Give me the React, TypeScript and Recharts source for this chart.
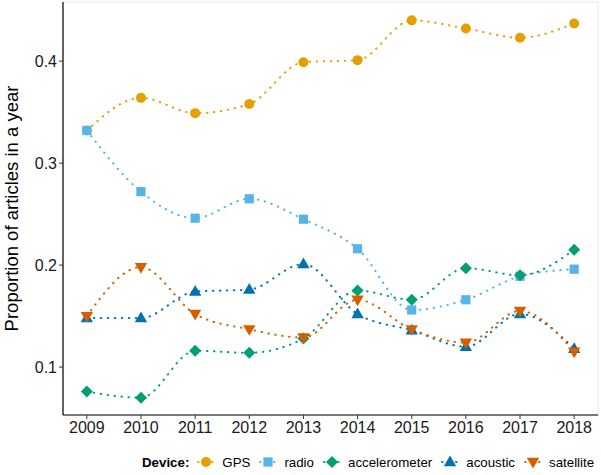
import React from 'react';
import { LineChart, Line, XAxis, YAxis, CartesianGrid } from 'recharts';

const years = [2009, 2010, 2011, 2012, 2013, 2014, 2015, 2016, 2017, 2018];
const gps = [0.332, 0.364, 0.349, 0.358, 0.399, 0.401, 0.44, 0.432, 0.423, 0.437];
const radio = [0.332, 0.272, 0.246, 0.265, 0.245, 0.216, 0.156, 0.166, 0.189, 0.196];
const accelerometer = [0.076, 0.07, 0.116, 0.114, 0.128, 0.175, 0.166, 0.197, 0.19, 0.215];
const acoustic = [0.148, 0.148, 0.174, 0.176, 0.201, 0.152, 0.136, 0.12, 0.152, 0.118];
const satellite = [0.15, 0.198, 0.152, 0.137, 0.129, 0.166, 0.137, 0.124, 0.155, 0.115];

const yTicks = [0.1, 0.2, 0.3, 0.4];
const yGridTicks = [0.1, 0.15, 0.2, 0.25, 0.3, 0.35, 0.4, 0.45];
const xGridTicks = [2009, 2009.5, 2010, 2010.5, 2011, 2011.5, 2012, 2012.5, 2013, 2013.5, 2014, 2014.5, 2015, 2015.5, 2016, 2016.5, 2017, 2017.5, 2018];

const data = years.map((year, i) => ({
  year,
  gps: gps[i],
  radio: radio[i],
  accelerometer: accelerometer[i],
  acoustic: acoustic[i],
  satellite: satellite[i],
}));

type Shape = 'circle' | 'square' | 'diamond' | 'up' | 'down';

const series: { key: string; name: string; color: string; shape: Shape }[] = [
  { key: 'gps', name: 'GPS', color: '#E69F00', shape: 'circle' },
  { key: 'radio', name: 'radio', color: '#56B4E9', shape: 'square' },
  { key: 'accelerometer', name: 'accelerometer', color: '#009E73', shape: 'diamond' },
  { key: 'acoustic', name: 'acoustic', color: '#0072B2', shape: 'up' },
  { key: 'satellite', name: 'satellite', color: '#D55E00', shape: 'down' },
];

function Marker({ cx, cy, shape, color }: { cx: number; cy: number; shape: Shape; color: string }) {
  if (cx == null || cy == null) return null;
  switch (shape) {
    case 'circle':
      return <circle cx={cx} cy={cy} r={5} fill={color} />;
    case 'square':
      return <rect x={cx - 4.6} y={cy - 4.6} width={9.2} height={9.2} fill={color} />;
    case 'diamond':
      return <polygon points={`${cx},${cy - 6} ${cx + 6},${cy} ${cx},${cy + 6} ${cx - 6},${cy}`} fill={color} />;
    case 'up':
      return <polygon points={`${cx},${cy - 6.5} ${cx + 6.2},${cy + 4.2} ${cx - 6.2},${cy + 4.2}`} fill={color} />;
    case 'down':
      return <polygon points={`${cx},${cy + 6.5} ${cx + 6.2},${cy - 4.2} ${cx - 6.2},${cy - 4.2}`} fill={color} />;
  }
  return null;
}

const font = '"Liberation Sans", Arial, sans-serif';

function LegendBox() {
  return (
    <div
      style={{
        position: 'absolute',
        left: 142,
        top: 453,
        width: 470,
        display: 'flex',
        alignItems: 'center',
        fontFamily: font,
        fontSize: 13.3,
        color: '#000',
        whiteSpace: 'nowrap',
      }}
    >
      <span style={{ fontWeight: 'bold', marginRight: 8, flexShrink: 0 }}>Device:</span>
      {series.map(s => (
        <span key={s.key} style={{ display: 'flex', alignItems: 'center', marginRight: 9, flexShrink: 0 }}>
          <svg width={18} height={18} style={{ marginRight: 7 }}>
            <line x1={1} y1={9} x2={17} y2={9} stroke={s.color} strokeWidth={2} strokeDasharray="0.5 6.5" strokeLinecap="round" />
            <Marker cx={9} cy={9} shape={s.shape} color={s.color} />
          </svg>
          <span>{s.name}</span>
        </span>
      ))}
    </div>
  );
}

export default function App() {
  return (
    <div style={{ position: 'absolute', left: 0, top: 0, width: 601, height: 475, background: '#fff', overflow: 'hidden' }}>
      <LineChart width={601} height={475} data={data} margin={{ top: 2, right: 3, left: 0, bottom: 35 }}>
        <CartesianGrid xAxisId="top" yAxisId="right" stroke="#EBEBEB" strokeWidth={1} />
        <XAxis
          xAxisId="main"
          dataKey="year"
          type="number"
          domain={[2008.56, 2018.44]}
          ticks={years}
          allowDataOverflow
          height={25}
          tickSize={4}
          tickMargin={3}
          axisLine={{ stroke: '#000', strokeWidth: 1.2 }}
          tickLine={{ stroke: '#333' }}
          tick={{ fill: '#1a1a1a', fontSize: 16, fontFamily: font }}
        />
        <XAxis
          xAxisId="top"
          orientation="top"
          dataKey="year"
          type="number"
          domain={[2008.56, 2018.44]}
          ticks={xGridTicks}
          allowDataOverflow
          height={0}
          tick={false}
          tickLine={false}
          axisLine={{ stroke: '#444', strokeWidth: 1.2 }}
        />
        <YAxis
          yAxisId="main"
          type="number"
          domain={[0.053, 0.458]}
          ticks={yTicks}
          allowDataOverflow
          width={63}
          tickSize={4}
          tickMargin={2}
          tickFormatter={(v: number) => String(v)}
          axisLine={{ stroke: '#000', strokeWidth: 1.2 }}
          tickLine={{ stroke: '#333' }}
          tick={{ fill: '#1a1a1a', fontSize: 16, fontFamily: font }}
          label={{
            value: 'Proportion of articles in a year',
            angle: -90,
            position: 'insideLeft',
            offset: 0,
            dx: 11,
            style: { textAnchor: 'middle', fontSize: 18.5, fontFamily: font, fill: '#000' },
          }}
        />
        <YAxis
          yAxisId="right"
          orientation="right"
          type="number"
          domain={[0.053, 0.458]}
          ticks={yGridTicks}
          allowDataOverflow
          width={0}
          tick={false}
          tickLine={false}
          axisLine={{ stroke: '#444', strokeWidth: 1.2 }}
        />
        {series.map(s => (
          <Line
            key={s.key}
            xAxisId="main"
            yAxisId="main"
            type="monotone"
            dataKey={s.key}
            name={s.name}
            stroke={s.color}
            strokeWidth={2}
            strokeDasharray="0.5 6.5"
            strokeLinecap="round"
            isAnimationActive={false}
            dot={(p: any) => <Marker key={`${s.key}-${p.index}`} cx={p.cx} cy={p.cy} shape={s.shape} color={s.color} />}
            activeDot={false}
          />
        ))}
      </LineChart>
      <LegendBox />
    </div>
  );
}
